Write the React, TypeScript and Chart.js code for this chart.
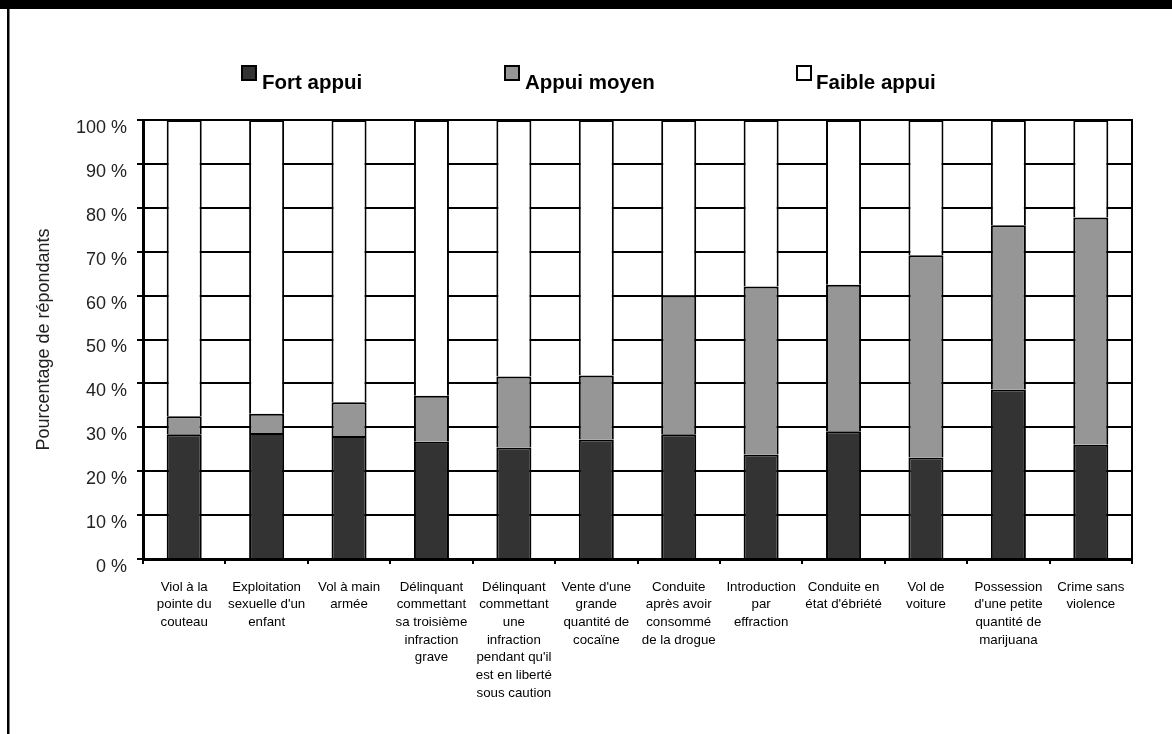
import React, { useEffect, useRef } from "react";
import { Chart, registerables } from "chart.js";

Chart.register(...registerables);

const CATEGORIES: string[][] = [
  ["Viol à la", "pointe du", "couteau"],
  ["Exploitation", "sexuelle d'un", "enfant"],
  ["Vol à main", "armée"],
  ["Délinquant", "commettant", "sa troisième", "infraction", "grave"],
  ["Délinquant", "commettant", "une", "infraction", "pendant qu'il", "est en liberté", "sous caution"],
  ["Vente d'une", "grande", "quantité de", "cocaïne"],
  ["Conduite", "après avoir", "consommé", "de la drogue"],
  ["Introduction", "par", "effraction"],
  ["Conduite en", "état d'ébriété"],
  ["Vol de", "voiture"],
  ["Possession", "d'une petite", "quantité de", "marijuana"],
  ["Crime sans", "violence"],
];

const SERIES_NAMES = ["Fort appui", "Appui moyen", "Faible appui"];
const FORT = [28.4, 28.7, 28.0, 26.7, 25.4, 27.2, 28.4, 23.8, 29.1, 23.1, 38.6, 26.0];
const MOYEN = [4.1, 4.4, 7.7, 10.5, 16.2, 14.6, 31.6, 38.3, 33.4, 46.1, 37.4, 51.8];
const FAIBLE = [67.5, 66.9, 64.3, 62.8, 58.4, 58.2, 40.0, 37.9, 37.5, 30.8, 24.0, 22.2];
const Y_TICKS = [0, 10, 20, 30, 40, 50, 60, 70, 80, 90, 100];
const Y_TITLE = "Pourcentage de répondants";

const COLORS = ["#333333", "#969696", "#ffffff"];

const SANS = "'Liberation Sans', Arial, sans-serif";

const decorPlugin = {
  id: "decor",
  afterDraw(chart: any) {
    const ctx = chart.ctx;
    const area = chart.chartArea;
    ctx.save();
    // page frame
    ctx.fillStyle = "#000";
    ctx.fillRect(0, 0, chart.width, 9);
    ctx.fillRect(7, 0, 2.5, chart.height);
    // right border of plot
    ctx.strokeStyle = "#000";
    ctx.lineWidth = 2;
    ctx.beginPath();
    ctx.moveTo(area.right, area.top - 1);
    ctx.lineTo(area.right, area.bottom + 4);
    ctx.stroke();
    // legend
    const boxX = [242, 505, 797];
    const textX = [262, 525, 816];
    ctx.font = `bold 20.5px ${SANS}`;
    ctx.textBaseline = "alphabetic";
    ctx.textAlign = "left";
    chart.data.datasets.forEach((ds: any, i: number) => {
      ctx.fillStyle = ds.backgroundColor;
      ctx.fillRect(boxX[i], 66, 14, 14);
      ctx.lineWidth = 2;
      ctx.strokeStyle = "#000";
      ctx.strokeRect(boxX[i], 66, 14, 14);
      ctx.fillStyle = "#000";
      ctx.fillText(ds.label, textX[i], 89);
    });
    ctx.restore();
  },
};

export default function App() {
  const ref = useRef<HTMLCanvasElement | null>(null);
  useEffect(() => {
    if (!ref.current) return;
    const chart = new Chart(ref.current, {
      type: "bar",
      data: {
        labels: CATEGORIES as any,
        datasets: [
          { label: SERIES_NAMES[0], data: FORT, backgroundColor: COLORS[0] },
          { label: SERIES_NAMES[1], data: MOYEN, backgroundColor: COLORS[1] },
          { label: SERIES_NAMES[2], data: FAIBLE, backgroundColor: COLORS[2] },
        ],
      },
      options: {
        responsive: false,
        animation: false,
        layout: { padding: { top: 120, right: 40, left: 0, bottom: 0 } },
        datasets: {
          bar: {
            barPercentage: 0.425,
            categoryPercentage: 1,
            borderColor: "#000",
            borderWidth: 2,
          },
        } as any,
        plugins: {
          legend: { display: false },
          tooltip: { enabled: false },
        },
        scales: {
          x: {
            stacked: true,
            grid: {
              offset: true,
              drawOnChartArea: false,
              drawTicks: true,
              tickLength: 5,
              tickColor: "#000",
              tickWidth: 2,
              color: "#000",
              lineWidth: 2,
            },
            border: { color: "#000", width: 3 },
            ticks: {
              autoSkip: false,
              maxRotation: 0,
              minRotation: 0,
              padding: 14,
              color: "#000",
              font: { family: SANS, size: 13.3, lineHeight: 1.33 },
            },
            afterFit: (s: any) => {
              s.height = 175;
            },
          },
          y: {
            stacked: true,
            min: 0,
            max: 100,
            afterBuildTicks: (s: any) => {
              s.ticks = Y_TICKS.map((v) => ({ value: v }));
            },
            ticks: {
              callback: (v: any) => `${v} %`,
              padding: 10,
              labelOffset: 8,
              color: "#222",
              font: { family: SANS, size: 18 },
            },
            grid: {
              color: "#000",
              lineWidth: 2,
              tickLength: 6,
              tickColor: "#000",
            },
            border: { color: "#000", width: 3 },
            title: {
              display: true,
              text: Y_TITLE,
              color: "#222",
              padding: { top: 33, bottom: 0 },
              font: { family: SANS, size: 18 },
            },
            afterFit: (s: any) => {
              s.width = 143;
            },
          },
        },
      },
      plugins: [decorPlugin],
    });
    return () => chart.destroy();
  }, []);

  return (
    <div style={{ position: "absolute", left: 0, top: 0, width: 1172, height: 734, background: "#fff" }}>
      <canvas ref={ref} width={1172} height={734} style={{ display: "block" }} />
    </div>
  );
}
